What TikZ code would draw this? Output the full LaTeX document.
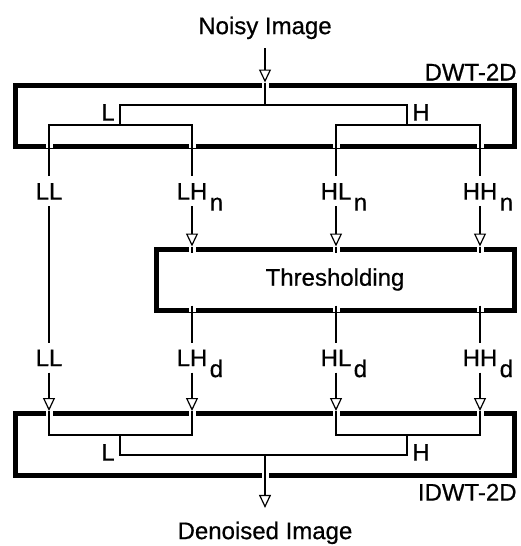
\documentclass[tikz,border=0pt]{standalone}
\usepackage{fontspec}
\setmainfont[FakeBold=0.6]{Liberation Sans}
\usetikzlibrary{arrows.meta}

\newcommand{\lowidx}[1]{\rlap{\smash{\raisebox{-5.5pt}{\kern1.2pt#1}}}}

\begin{document}
\begin{tikzpicture}[
    x=0.5pt, y=-0.5pt,
    every node/.style={font=\fontsize{12}{14}\selectfont},
    blk/.style={draw, line width=2.5pt, minimum width=249.5pt, minimum height=30.5pt, inner sep=0pt},
    lbl/.style={inner xsep=0pt, inner ysep=3pt, text height=8.6pt, text depth=0pt},
    io/.style={lbl, inner ysep=6.8pt},
    ln/.style={line width=0.6pt},
    arr/.style={ln, -{Triangle[open, width=6pt, length=6.5pt]}},
    gap/.style={fill=white, inner sep=0pt, minimum width=3.5pt, minimum height=3.2pt,
                path picture={\draw[ln] (path picture bounding box.north) -- (path picture bounding box.south);}}
]
\useasboundingbox (0,0) rectangle (520,546);

% blocks
\node[io] (noisy) at (265,25.5) {Noisy Image};
\node[blk] (dwt) at (265,115.5) {};
\node[lbl, anchor=south east, inner ysep=0.8pt] (dwtname) at (dwt.north east) {DWT-2D};
\node[blk, minimum width=179pt] (thr) at (335,279.5) {Thresholding};
\node[blk, minimum height=31pt] (idwt) at (265,444.5) {};
\node[lbl, anchor=north east, inner ysep=2.5pt] (idwtname) at (idwt.south east) {IDWT-2D};
\node[io] (denoised) at (265,530.5) {Denoised Image};

% subbands
\node[lbl] (ll1) at (49,191) {LL};
\node[lbl] (lhn) at (192,191) {LH\lowidx{n}};
\node[lbl] (hln) at (336,191) {HL\lowidx{n}};
\node[lbl] (hhn) at (480,191) {HH\lowidx{n}};
\node[lbl] (ll2) at (49,357.5) {LL};
\node[lbl] (lhd) at (192,357.5) {LH\lowidx{d}};
\node[lbl] (hld) at (336,357.5) {HL\lowidx{d}};
\node[lbl] (hhd) at (480,357.5) {HH\lowidx{d}};

% filter branches
\node[lbl] (dl) at (108,112) {L};
\node[lbl] (dh) at (421,112) {H};
\node[lbl] (il) at (108,452) {L};
\node[lbl] (ih) at (421,452) {H};
\coordinate (dsplit) at (265,105);
\coordinate (dlj) at (120,105);
\coordinate (dhj) at (407,105);
\coordinate (dlow) at (0,125);
\coordinate (iup) at (0,435);
\coordinate (ilj) at (120,455);
\coordinate (ihj) at (407,455);
\coordinate (isplit) at (265,455);

% analysis
\draw[arr] (noisy) -- (dwt.north);
\draw[ln] (dwt.north) -- (dsplit);
\draw[ln] (dlj |- dlow) -- (dlj) -- (dhj) -- (dhj |- dlow);
\draw[ln] (ll1) -- (ll1 |- dlow) -- (lhn |- dlow) -- (lhn);
\draw[ln] (hln) -- (hln |- dlow) -- (hhn |- dlow) -- (hhn);

% thresholding
\draw[ln] (ll1) -- (ll2);
\foreach \a/\b in {lhn/lhd, hln/hld, hhn/hhd} {
  \draw[arr] (\a) -- (thr.north -| \a);
  \draw[ln] (thr.south -| \b) -- (\b);
}

% synthesis
\foreach \a in {ll2, lhd, hld, hhd}
  \draw[arr] (\a) -- (idwt.north -| \a);
\draw[ln] (idwt.north -| ll2) -- (ll2 |- iup) -- (lhd |- iup) -- (idwt.north -| lhd);
\draw[ln] (idwt.north -| hld) -- (hld |- iup) -- (hhd |- iup) -- (idwt.north -| hhd);
\draw[ln] (ilj |- iup) -- (ilj) -- (ihj) -- (ihj |- iup);
\draw[ln] (isplit) -- (idwt.south);
\draw[arr] (idwt.south) -- (denoised);

% breaks in the thick frames
\node[gap, anchor=north] at (dwt.north) {};
\node[gap, anchor=south] at (idwt.south) {};
\foreach \c in {ll1, lhn, hln, hhn}
  \node[gap, anchor=south] at (dwt.south -| \c) {};
\foreach \c in {lhn, hln, hhn} {
  \node[gap, anchor=north] at (thr.north -| \c) {};
  \node[gap, anchor=south] at (thr.south -| \c) {};
}
\foreach \c in {ll2, lhd, hld, hhd}
  \node[gap, anchor=north] at (idwt.north -| \c) {};
\end{tikzpicture}
\end{document}
